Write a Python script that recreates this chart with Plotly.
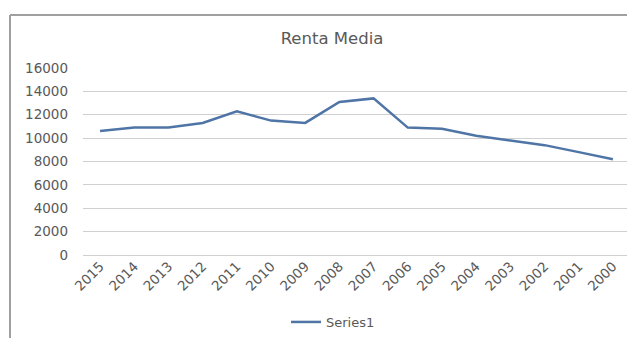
import plotly.graph_objects as go

years = ["2015", "2014", "2013", "2012", "2011", "2010", "2009", "2008",
         "2007", "2006", "2005", "2004", "2003", "2002", "2001", "2000"]
renta = [10600, 10900, 10900, 11300, 12300, 11500, 11300, 13100,
         13400, 10900, 10800, 10200, 9800, 9400, 8800, 8200]
y_ticks = [0, 2000, 4000, 6000, 8000, 10000, 12000, 14000, 16000]
y_tick_labels = [str(v) for v in y_ticks]

OFF = 8  # page body margin
W, H = 635 - OFF, 338 - OFF
# plot area in page pixels: x 83..630, y 68..255
ml = 83 - OFF
mt = 68 - OFF
mr = W - (630 - OFF)
mb = H - (255 - OFF)
pw, ph = W - ml - mr, H - mt - mb

FONT = "DejaVu Sans, Verdana, sans-serif"
GREY = "#595959"


def px_x(x):
    return (x - OFF - ml) / pw


def px_y(y):
    return 1 - (y - OFF - mt) / ph


fig = go.Figure()
fig.add_trace(go.Scatter(
    x=years, y=renta, mode="lines", name="Series1",
    line=dict(color="#4f74a6", width=2.5),
))

fig.update_layout(
    width=W, height=H,
    margin=dict(l=ml, r=mr, t=mt, b=mb, autoexpand=False),
    paper_bgcolor="white", plot_bgcolor="white",
    font=dict(family=FONT, color=GREY, size=13),
    title=dict(text="Renta Media", x=px_x(332), xref="paper", xanchor="center",
               y=1 - (38 - OFF) / H, yanchor="middle",
               font=dict(family=FONT, size=16.5, color=GREY)),
    showlegend=True,
    legend=dict(orientation="h", x=px_x(286), xanchor="left",
                y=px_y(322), yanchor="middle",
                font=dict(family=FONT, size=13, color=GREY)),
    xaxis=dict(type="category", range=[-0.5, len(years) - 0.5], tickangle=-45,
               showgrid=False, showline=False, ticks="",
               tickfont=dict(family=FONT, size=13.5, color=GREY),
               automargin=False),
    yaxis=dict(range=[0, 16000], tickvals=y_ticks, ticktext=y_tick_labels,
               showgrid=True, gridcolor="#d0d0d0", gridwidth=1,
               zeroline=True, zerolinecolor="#d0d0d0", zerolinewidth=1,
               showline=False, ticks="", ticklabelstandoff=14,
               tickfont=dict(family=FONT, size=13.5, color=GREY), automargin=False),
    shapes=[
        dict(type="line", xref="paper", yref="paper",
             x0=px_x(10), x1=1.2, y0=px_y(15), y1=px_y(15),
             line=dict(color="#a0a0a0", width=2)),
        dict(type="line", xref="paper", yref="paper",
             x0=px_x(10), x1=px_x(10), y0=px_y(15), y1=px_y(345),
             line=dict(color="#a0a0a0", width=2)),
    ],
)

fig.write_html("out.html")
